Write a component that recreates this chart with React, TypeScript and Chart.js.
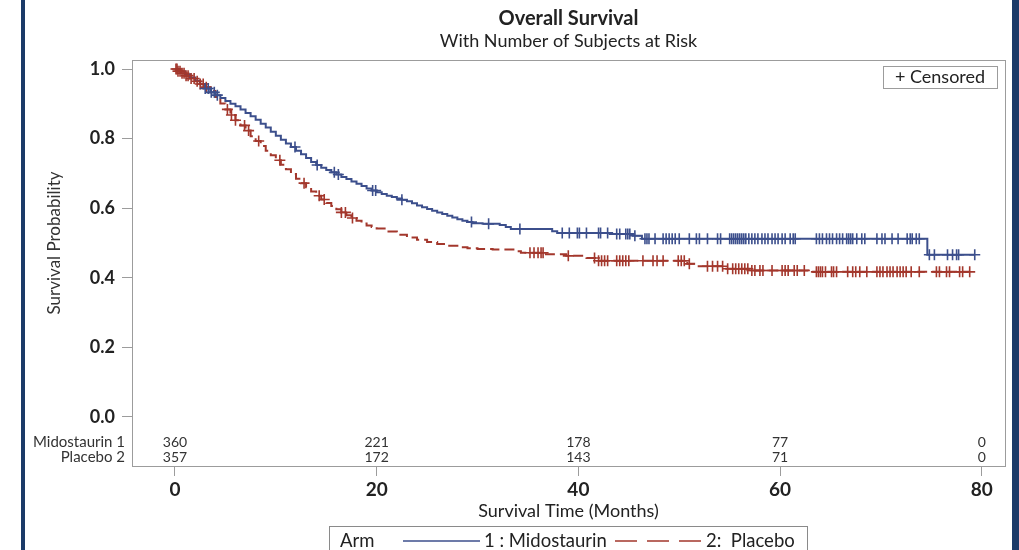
import { useEffect, useRef } from "react";
import { Chart, registerables } from "chart.js";

Chart.register(...registerables);

const chartTitle = "Overall Survival";
const chartSubtitle = "With Number of Subjects at Risk";
const xAxisTitle = "Survival Time (Months)";
const yAxisTitle = "Survival Probability";
const legendHeading = "Arm";
const armNames = ["1 : Midostaurin", "2:  Placebo"];
const censoredLabel = "+ Censored";
const riskRowLabels = ["Midostaurin 1", "Placebo 2"];
const xTickValues = [0, 20, 40, 60, 80];
const yTickValues = [0, 0.2, 0.4, 0.6, 0.8, 1.0];
const midostaurinAtRisk = [360, 221, 178, 77, 0];
const placeboAtRisk = [357, 172, 143, 71, 0];

// [month, survival probability after that time]
const midostaurinSteps: [number, number][] = [
  [0, 1], [0.5, 0.993], [1, 0.985], [1.5, 0.976], [2, 0.966], [2.5, 0.956], [3, 0.944], [3.5, 0.933],
  [4, 0.925], [4.5, 0.917], [5, 0.908], [5.5, 0.9], [6, 0.893], [6.5, 0.884], [7, 0.874], [7.5, 0.864],
  [8, 0.854], [8.5, 0.843], [9, 0.832], [9.5, 0.82], [10, 0.808], [10.5, 0.797], [11, 0.786], [11.5, 0.776],
  [12, 0.765], [12.5, 0.755], [13, 0.744], [13.5, 0.733], [14, 0.724], [14.5, 0.716], [15, 0.71], [15.5, 0.703],
  [16, 0.697], [16.5, 0.69], [17, 0.684], [17.5, 0.677], [18, 0.67], [18.5, 0.664], [19, 0.657], [19.5, 0.651],
  [20, 0.646], [20.5, 0.641], [21, 0.636], [21.5, 0.632], [22, 0.628], [22.5, 0.624], [23, 0.62], [23.5, 0.614],
  [24, 0.608], [24.5, 0.603], [25, 0.598], [25.5, 0.593], [26, 0.588], [26.5, 0.583], [27, 0.578], [27.5, 0.573],
  [28, 0.568], [28.5, 0.564], [29, 0.56], [29.5, 0.557], [30.5, 0.555], [32.2, 0.552], [32.8, 0.546], [33.3, 0.54],
  [37.4, 0.534], [37.9, 0.529], [43.1, 0.526], [45.4, 0.521], [46.3, 0.512], [74.6, 0.466], [79.3, 0.466],
];

const placeboSteps: [number, number][] = [
  [0, 1], [0.3, 0.994], [0.6, 0.988], [1, 0.981], [1.5, 0.973], [2, 0.965], [2.5, 0.957], [3, 0.948],
  [3.5, 0.937], [4, 0.92], [4.5, 0.901], [5, 0.884], [5.5, 0.868], [6, 0.853], [6.5, 0.838], [7, 0.823],
  [7.5, 0.807], [8, 0.793], [8.5, 0.779], [9, 0.765], [9.5, 0.752], [10, 0.738], [10.5, 0.725], [11, 0.712],
  [11.5, 0.698], [12, 0.685], [12.5, 0.672], [13, 0.66], [13.5, 0.648], [14, 0.636], [14.5, 0.625], [15, 0.615],
  [15.5, 0.606], [16, 0.597], [16.5, 0.588], [17, 0.58], [17.5, 0.572], [18, 0.564], [18.5, 0.556], [19, 0.55],
  [19.5, 0.546], [20, 0.542], [21, 0.533], [22, 0.524], [23, 0.516], [24, 0.509], [25, 0.503], [26, 0.497],
  [27, 0.492], [28, 0.488], [29, 0.485], [30, 0.483], [31.5, 0.481], [33.8, 0.476], [34.3, 0.472], [36.6, 0.468],
  [38.8, 0.463], [40.8, 0.457], [41.8, 0.449], [50.8, 0.44], [51.6, 0.433], [54.5, 0.426], [57, 0.421], [62.8, 0.417],
  [78.8, 0.417],
];

const midostaurinCensored = [
  3.0, 3.3, 3.6, 3.9, 4.2, 11.9, 14.1, 15.8, 16.2, 19.6, 19.9, 22.5, 29.4, 31.1, 34.2, 38.4, 39.1, 39.9, 40.1,
  40.8, 42, 42.2, 42.9, 43.8, 44.1, 44.7, 44.9, 45.1, 45.6, 46.6, 46.8, 47, 47.6, 48.4, 48.7, 49, 49.3, 49.6, 50,
  51, 51.7, 52, 52.8, 53.8, 54.1, 55, 55.2, 55.4, 55.6, 55.8, 56, 56.2, 56.4, 56.6, 56.9, 57.2, 57.5, 57.8, 58.2,
  58.5, 58.8, 59.2, 59.5, 59.8, 60.2, 60.5, 61, 61.3, 61.5, 63.6, 63.9, 64.2, 64.6, 64.9, 65.2, 65.6, 65.9, 66.2,
  66.6, 66.8, 67, 67.2, 67.6, 68.1, 68.4, 69.6, 70.1, 70.4, 71.1, 71.7, 72.6, 72.9, 73.1, 73.5, 73.8, 74.8, 75.3,
  76.6, 77.1, 77.5, 77.7, 79.3,
];

const placeboCensored = [
  0.1, 0.2, 0.3, 0.5, 0.7, 0.9, 1.1, 1.3, 1.6, 1.9, 2.2, 2.5, 2.8, 3.1, 5.2, 5.6, 6.0, 6.9, 7.3, 8.3, 10.4, 12.8,
  14.3, 14.8, 16.5, 16.9, 17.6, 35.2, 35.6, 36, 36.3, 36.5, 39, 41.6, 42, 42.3, 42.6, 42.9, 43.8, 44.1, 44.4, 44.7,
  45, 46.4, 47.4, 47.8, 48.4, 49.9, 50.2, 50.5, 51, 52.8, 53.3, 53.8, 54.3, 54.8, 55.3, 55.6, 55.9, 56.2, 56.5,
  56.8, 57.2, 57.5, 58, 58.3, 59.2, 60.2, 60.5, 60.8, 61.4, 61.7, 62.4, 63.6, 63.8, 64, 64.2, 64.5, 65.1, 65.3,
  65.6, 66.7, 67.2, 67.5, 67.9, 68.6, 69.6, 69.9, 70.2, 70.6, 70.9, 71.2, 71.6, 71.9, 72.2, 72.5, 73, 73.8, 75.5,
  75.8, 76.5, 76.8, 77.8, 78.1, 78.8,
];

const BLUE = "#3c4f8c";
const RED = "#a3372c";
const NAVY = "#1b3a68";
const FRAME = "#9c9c9c";
const TEXT = "#222222";
const FONT = "Lato, 'Open Sans', sans-serif";

function survivalAt(steps: [number, number][], t: number): number {
  let s = steps[0][1];
  for (const [ti, si] of steps) {
    if (ti <= t) s = si;
    else break;
  }
  return s;
}

const decorations = {
  id: "decorations",
  beforeDraw(chart: any) {
    const ctx = chart.ctx;
    ctx.save();
    ctx.fillStyle = "#ffffff";
    ctx.fillRect(0, 0, chart.width, chart.height);
    ctx.fillStyle = NAVY;
    ctx.fillRect(21, 0, 4, chart.height);
    ctx.fillRect(1012, 0, 7, chart.height);
    ctx.restore();
  },
  beforeDatasetsDraw(chart: any) {
    const { ctx, chartArea: a } = chart;
    ctx.save();
    ctx.strokeStyle = FRAME;
    ctx.lineWidth = 1;
    ctx.strokeRect(Math.round(a.left) + 0.5, Math.round(a.top) + 0.5, Math.round(a.right - a.left), Math.round(a.bottom - a.top));
    ctx.restore();
  },
  afterDraw(chart: any) {
    const { ctx, chartArea: a } = chart;
    const xs = chart.scales.x;
    const ys = chart.scales.y;
    const cx = (a.left + a.right) / 2;
    ctx.save();
    ctx.fillStyle = TEXT;
    ctx.textBaseline = "middle";
    ctx.textAlign = "center";
    ctx.font = `bold 20px ${FONT}`;
    ctx.fillText(chartTitle, cx, 19);
    ctx.font = `18px ${FONT}`;
    ctx.fillText(chartSubtitle, cx, 41);

    // y axis title
    ctx.save();
    const yMid = (ys.getPixelForValue(0) + ys.getPixelForValue(1)) / 2;
    ctx.translate(55, yMid);
    ctx.rotate(-Math.PI / 2);
    ctx.font = `17px ${FONT}`;
    ctx.fillStyle = "#333";
    ctx.fillText(yAxisTitle, 0, 0);
    ctx.restore();

    // x axis title
    ctx.font = `18px ${FONT}`;
    ctx.fillText(xAxisTitle, cx, 511);

    // risk table
    const rowY = [442, 457];
    const rows = [midostaurinAtRisk, placeboAtRisk];
    ctx.fillStyle = "#333";
    rows.forEach((vals, r) => {
      ctx.textAlign = "right";
      ctx.font = `15px ${FONT}`;
      ctx.fillText(riskRowLabels[r], 125, rowY[r]);
      ctx.textAlign = "center";
      ctx.font = `14px ${FONT}`;
      vals.forEach((v, i) => {
        ctx.fillText(String(v), xs.getPixelForValue(xTickValues[i]), rowY[r]);
      });
    });

    // censored inset legend
    ctx.strokeStyle = FRAME;
    ctx.lineWidth = 1;
    ctx.strokeRect(883.5, 66.5, 114, 22);
    ctx.fillStyle = TEXT;
    ctx.font = `18px ${FONT}`;
    ctx.textAlign = "center";
    ctx.fillText(censoredLabel, 940, 77.5);

    // bottom legend
    ctx.strokeStyle = "#8a8a8a";
    ctx.strokeRect(329.5, 526.5, 478, 40);
    ctx.textAlign = "left";
    ctx.fillStyle = TEXT;
    ctx.font = `18.5px ${FONT}`;
    ctx.fillText(legendHeading, 340, 541);
    ctx.fillText(armNames[0], 484, 541);
    ctx.fillText(armNames[1], 706, 541);
    ctx.lineWidth = 1.6;
    ctx.strokeStyle = BLUE;
    ctx.beginPath();
    ctx.moveTo(403, 541);
    ctx.lineTo(480, 541);
    ctx.stroke();
    ctx.strokeStyle = RED;
    ctx.setLineDash([22, 10]);
    ctx.beginPath();
    ctx.moveTo(615, 541);
    ctx.lineTo(701, 541);
    ctx.stroke();
    ctx.setLineDash([]);
    ctx.restore();
  },
};

export default function App() {
  const canvasRef = useRef<HTMLCanvasElement | null>(null);

  useEffect(() => {
    const canvas = canvasRef.current;
    if (!canvas) return;
    const chart = new Chart(canvas, {
      type: "scatter",
      data: {
        datasets: [
          {
            type: "scatter",
            label: "Midostaurin censored",
            data: midostaurinCensored.map((t) => ({ x: t, y: survivalAt(midostaurinSteps, t) })),
            pointStyle: "cross",
            pointRadius: 5.5,
            pointBorderWidth: 1.6,
            borderColor: BLUE,
            backgroundColor: BLUE,
          },
          {
            type: "scatter",
            label: "Placebo censored",
            data: placeboCensored.map((t) => ({ x: t, y: survivalAt(placeboSteps, t) })),
            pointStyle: "cross",
            pointRadius: 5.5,
            pointBorderWidth: 1.6,
            borderColor: RED,
            backgroundColor: RED,
          },
          {
            type: "line",
            label: armNames[0],
            data: midostaurinSteps.map(([x, y]) => ({ x, y })),
            stepped: true,
            borderColor: BLUE,
            borderWidth: 2,
            pointRadius: 0,
            fill: false,
          },
          {
            type: "line",
            label: armNames[1],
            data: placeboSteps.map(([x, y]) => ({ x, y })),
            stepped: true,
            borderColor: RED,
            borderWidth: 2,
            borderDash: [10, 5],
            pointRadius: 0,
            fill: false,
          },
        ],
      },
      options: {
        animation: false,
        responsive: false,
        maintainAspectRatio: false,
        layout: { padding: { top: 60, right: 14, left: 0, bottom: 0 } },
        plugins: {
          legend: { display: false },
          title: { display: false },
          tooltip: { enabled: false },
        },
        scales: {
          x: {
            type: "linear",
            min: -4.26,
            max: 82.3,
            afterBuildTicks: (scale: any) => {
              scale.ticks = xTickValues.map((v) => ({ value: v }));
            },
            afterFit: (scale: any) => {
              scale.height = 84;
            },
            border: { display: false },
            grid: { drawOnChartArea: false, drawTicks: true, tickLength: 10, color: FRAME },
            ticks: {
              color: TEXT,
              padding: 2,
              font: { family: FONT, size: 19, weight: "bold" },
              callback: (v: any) => String(v),
            },
          },
          y: {
            type: "linear",
            min: -0.141,
            max: 1.026,
            afterBuildTicks: (scale: any) => {
              scale.ticks = yTickValues.map((v) => ({ value: v }));
            },
            afterFit: (scale: any) => {
              scale.width = 132;
            },
            border: { display: false },
            grid: { drawOnChartArea: false, drawTicks: true, tickLength: 10, color: FRAME },
            ticks: {
              color: TEXT,
              padding: 7,
              font: { family: FONT, size: 18, weight: "bold" },
              callback: (v: any) => Number(v).toFixed(1),
            },
          },
        },
      },
      plugins: [decorations],
    });
    return () => chart.destroy();
  }, []);

  return (
    <div style={{ position: "fixed", left: 0, top: 0, width: 1019, height: 550, background: "#fff" }}>
      <canvas ref={canvasRef} width={1019} height={550} style={{ width: 1019, height: 550, display: "block" }} />
    </div>
  );
}
